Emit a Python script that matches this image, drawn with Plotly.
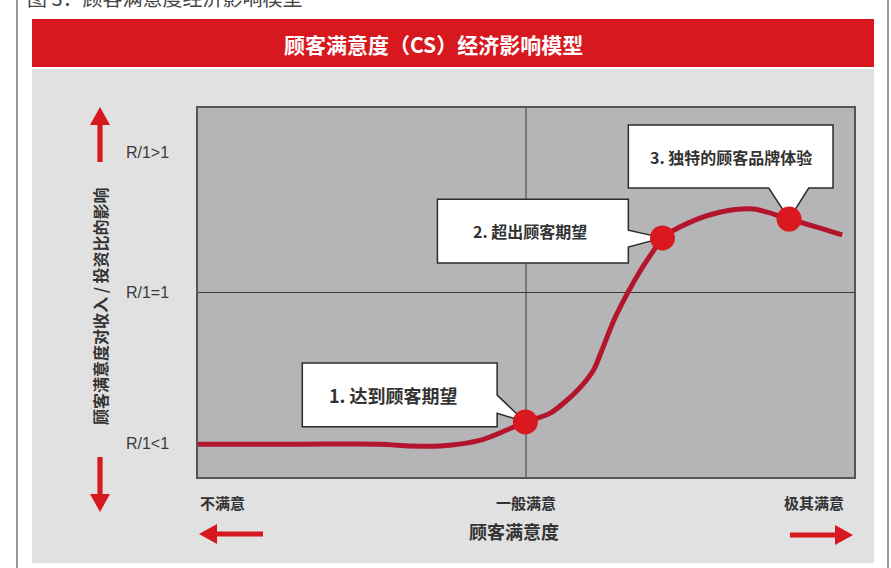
import plotly.graph_objects as go

# ---- data -------------------------------------------------------------
# customer satisfaction (0 = dissatisfied, 100 = extremely satisfied)
satisfaction = [0, 15.6, 27.8, 32.4, 36.9, 43.1, 49.9, 53.7, 57.9, 60.3, 61.4,
                63.4, 65.5, 67.5, 69.5, 70.8, 74.7, 79.7, 84.7, 90.1, 94.2, 98.2]
# impact on revenue / investment ratio (50 = break-even R/1 = 1)
impact = [8.9, 8.9, 8.9, 8.4, 8.4, 10.0, 14.9, 17.3, 23.6, 29.0, 33.6,
          42.5, 49.9, 56.1, 61.5, 64.8, 68.8, 71.8, 72.6, 69.9, 67.8, 65.6]

# milestones along the curve
milestone_x = [49.9, 70.8, 90.1]
milestone_y = [14.9, 64.8, 69.9]
milestone_labels = ["1. 达到顾客期望", "2. 超出顾客期望", "3. 独特的顾客品牌体验"]

# y tick labels
ratio_ticks = [9.2, 50, 88.1]
ratio_labels = ["R/1<1", "R/1=1", "R/1>1"]

# x reference labels
level_labels = ["不满意", "一般满意", "极其满意"]

# ---- layout constants (pixels) ----------------------------------------
W, H = 891, 568
PL, PR, PT, PB = 198, 854, 108, 477      # plot area edges

RED = "#D7181F"
CURVE = "#B3162C"
DARK = "#333333"
CJK = "Noto Sans CJK SC"


def px(x):
    return (x - PL) / (PR - PL)


def py(y):
    return (PB - y) / (PB - PT)


def poly(points):
    return "M " + " L ".join(f"{px(x):.5f},{py(y):.5f}" for x, y in points) + " Z"


def rect(x0, y0, x1, y1, color):
    return dict(type="rect", xref="paper", yref="paper", layer="below",
                x0=px(x0), x1=px(x1), y0=py(y1), y1=py(y0),
                fillcolor=color, line=dict(width=0))


def arrow(tip, base, direction, head_len=18, head_half=10, shaft_half=2.6):
    tx, ty = tip
    if direction in ("left", "right"):
        hb = tx + head_len if direction == "left" else tx - head_len
        pts = [(tx, ty), (hb, ty - head_half), (hb, ty - shaft_half), (base, ty - shaft_half),
               (base, ty + shaft_half), (hb, ty + shaft_half), (hb, ty + head_half)]
    else:
        hb = ty + head_len if direction == "up" else ty - head_len
        pts = [(tx, ty), (tx + head_half, hb), (tx + shaft_half, hb), (tx + shaft_half, base),
               (tx - shaft_half, base), (tx - shaft_half, hb), (tx - head_half, hb)]
    return dict(type="path", xref="paper", yref="paper", layer="above",
                path=poly(pts), fillcolor=RED, line=dict(width=0))


def label(x, y, text, size, color=DARK, xref="paper", xanchor="center", **kw):
    return dict(x=x, y=y, xref=xref, yref="paper", xanchor=xanchor, yanchor="middle",
                showarrow=False, text=text, font=dict(family=CJK, size=size, color=color), **kw)


shapes = [
    # grey panel framing the plot area
    rect(32, 69, 874, PT, "#E1E1E1"),
    rect(32, PB, 874, 563, "#E1E1E1"),
    rect(32, PT, PL, PB, "#E1E1E1"),
    rect(PR, PT, 874, PB, "#E1E1E1"),
    # title banner
    rect(32, 19, 874, 67, RED),
    # page borders
    dict(type="line", xref="paper", yref="paper", x0=px(17), x1=px(17), y0=py(0), y1=py(H),
         line=dict(color="#999999", width=2)),
    dict(type="line", xref="paper", yref="paper", x0=px(888), x1=px(888), y0=py(0), y1=py(H),
         line=dict(color="#999999", width=2)),
    # quadrant divider lines
    dict(type="line", xref="x", yref="y", layer="below", x0=50, x1=50, y0=0, y1=100,
         line=dict(color="#3a3a3a", width=1)),
    dict(type="line", xref="x", yref="y", layer="below", x0=0, x1=100, y0=50, y1=50,
         line=dict(color="#3a3a3a", width=1)),
    # direction arrows
    arrow((100, 107), 162, "up"),
    arrow((100, 512), 457, "down"),
    arrow((199, 534), 263, "left"),
    arrow((853, 535), 790, "right"),
]

# callout boxes (data coordinates) with pointers to each milestone
boxes = [
    dict(x0=15.9, x1=45.6, y0=13.6, y1=30.9, side="right", b0=17.3, b1=22.2,
         text_dx=-6, text_size=18),
    dict(x0=36.5, x1=65.6, y0=58.0, y1=75.3, side="right", b0=62.3, b1=66.9,
         text_dx=-3, text_size=16),
    dict(x0=65.6, x1=96.8, y0=78.3, y1=95.4, side="bottom", b0=87.0, b1=93.1,
         text_dx=0, text_size=16),
]
annotations = []
for b, mx, my, text in zip(boxes, milestone_x, milestone_y, milestone_labels):
    if b["side"] == "right":
        pts = [(b["x0"], b["y1"]), (b["x1"], b["y1"]), (b["x1"], b["b1"]), (mx, my),
               (b["x1"], b["b0"]), (b["x1"], b["y0"]), (b["x0"], b["y0"])]
    else:
        pts = [(b["x0"], b["y1"]), (b["x1"], b["y1"]), (b["x1"], b["y0"]), (b["b1"], b["y0"]),
               (mx, my), (b["b0"], b["y0"]), (b["x0"], b["y0"])]
    path = "M " + " L ".join(f"{x},{y}" for x, y in pts) + " Z"
    shapes.append(dict(type="path", xref="x", yref="y", layer="below", path=path,
                       fillcolor="white", line=dict(color="#2b2b2b", width=1.5)))
    annotations.append(dict(x=(b["x0"] + b["x1"]) / 2, y=(b["y0"] + b["y1"]) / 2,
                            xref="x", yref="y", xanchor="center", yanchor="middle",
                            xshift=b["text_dx"], text=f"<b>{text}</b>", showarrow=False,
                            font=dict(family=CJK, size=b["text_size"], color=DARK)))

# titles and reference labels
annotations += [
    label(px(433), py(44), "<b>顾客满意度（CS）经济影响模型</b>", 21, color="white"),
    label(px(25), py(-3), "图 3：顾客满意度经济影响模型", 20, color="#444444", xanchor="left"),
    label(px(100), py(307), "<b>顾客满意度对收入 / 投资比的影响</b>", 16, textangle=-90),
    label(px(514), py(531), "<b>顾客满意度</b>", 18),
]
for xv, anchor, shift, text in zip([0, 50, 100], ["left", "center", "right"], [0, 0, -8],
                                   level_labels):
    annotations.append(label(xv, py(502), f"<b>{text}</b>", 15, xref="x", xanchor=anchor,
                             xshift=shift))

fig = go.Figure()
fig.add_trace(go.Scatter(x=satisfaction, y=impact, mode="lines",
                         line=dict(color=CURVE, width=5, shape="spline", smoothing=0.8),
                         hoverinfo="skip"))
fig.add_trace(go.Scatter(x=milestone_x, y=milestone_y, mode="markers",
                         marker=dict(color="#D9181F", size=25, line=dict(width=0)),
                         hovertext=milestone_labels, hoverinfo="text"))

fig.update_layout(
    width=W, height=H,
    margin=dict(l=PL, r=W - PR, t=PT, b=H - PB, pad=0),
    paper_bgcolor="white", plot_bgcolor="#B5B5B7",
    showlegend=False,
    shapes=shapes, annotations=annotations,
    xaxis=dict(range=[0, 100], showgrid=False, zeroline=False, showticklabels=False,
               showline=True, mirror=True, linecolor="#555555", linewidth=1.5, fixedrange=True),
    yaxis=dict(range=[0, 100], showgrid=False, zeroline=False,
               tickvals=ratio_ticks, ticktext=ratio_labels, ticks="",
               ticklabelstandoff=24,
               tickfont=dict(family="Liberation Sans, Arial", size=16, color="#3a3a3a"),
               showline=True, mirror=True, linecolor="#555555", linewidth=1.5, fixedrange=True),
)

fig.write_html("out.html")
